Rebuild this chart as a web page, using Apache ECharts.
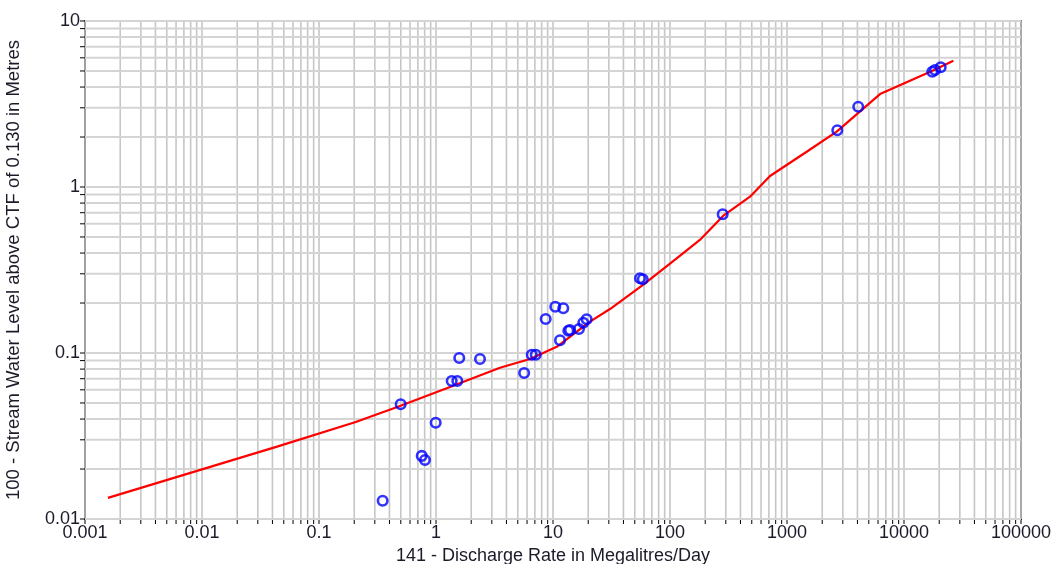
<!DOCTYPE html>
<html>
<head>
<meta charset="utf-8">
<title>Rating curve</title>
<script src="https://cdn.jsdelivr.net/npm/echarts@6/dist/echarts.min.js"></script>
<style>
  html, body { margin: 0; padding: 0; background: #fff; }
  #chart { width: 1053px; height: 564px; }
</style>
</head>
<body>
<div id="chart"></div>
<script>
// Rating curve: discharge (Ml/d) against stream water level (m)
const ratingFlow  = [0.00157, 0.0438, 0.203, 0.473, 1.235, 3.52, 6.36, 10.76, 20.7, 30.7, 58.8, 114, 180, 284, 483, 716, 1473, 2660, 5470, 6240, 17340, 26400];
const ratingLevel = [0.0134, 0.0273, 0.0383, 0.0475, 0.0613, 0.0815, 0.0920, 0.109, 0.1544, 0.184, 0.257, 0.372, 0.480, 0.669, 0.874, 1.165, 1.63, 2.155, 3.345, 3.63, 5.0, 5.77];

// Gaugings
const obsFlow  = [0.350, 0.499, 0.755, 0.805, 0.994, 1.362, 1.521, 1.581, 2.377, 5.67, 6.58, 7.12, 8.66, 10.46, 12.24, 11.48, 13.52, 13.97, 16.67, 18.15, 19.4, 55.4, 58.5, 282, 2692, 4065, 17460, 18400, 20590];
const obsLevel = [0.01289, 0.0491, 0.0240, 0.02267, 0.0380, 0.0678, 0.0678, 0.0933, 0.0920, 0.0758, 0.0977, 0.0977, 0.1603, 0.190, 0.186, 0.1193, 0.1362, 0.1376, 0.1395, 0.1522, 0.1596, 0.2818, 0.278, 0.685, 2.196, 3.047, 4.95, 5.07, 5.26];

// Axis tick labels (one per decade)
const xTickLabels = ['0.001', '0.01', '0.1', '1', '10', '100', '1000', '10000', '100000'];
const yTickLabels = ['0.01', '0.1', '1', '10'];

const xMin = Number(xTickLabels[0]), xMax = Number(xTickLabels[xTickLabels.length - 1]);
const yMin = Number(yTickLabels[0]), yMax = Number(yTickLabels[yTickLabels.length - 1]);

// Every 1..9 step of each decade gets a grid line
function logSteps(lo, hi) {
  const out = [];
  const e0 = Math.round(Math.log10(lo)), e1 = Math.round(Math.log10(hi));
  for (let e = e0; e < e1; e++) {
    for (let m = 1; m <= 9; m++) out.push(Number((m * Math.pow(10, e)).toPrecision(3)));
  }
  out.push(hi);
  return out;
}
const xGridValues = logSteps(xMin, xMax);
const yGridValues = logSteps(yMin, yMax);

const FONT = '"Liberation Sans", Arial, sans-serif';
const TEXT = '#1b1b2a';

function decadeLabel(labels, lo) {
  return function (v) {
    const i = Math.round(Math.log10(v)) - Math.round(Math.log10(lo));
    return labels[i] !== undefined ? labels[i] : '';
  };
}

const chart = echarts.init(document.getElementById('chart'), null, { renderer: 'canvas' });

chart.setOption({
  animation: false,
  backgroundColor: '#fff',
  grid: {
    left: 85, right: 32, top: 21, bottom: 45,
    outerBoundsMode: 'none', containLabel: false,
    show: true, borderColor: '#000', borderWidth: 1.5, backgroundColor: 'transparent'
  },
  xAxis: {
    type: 'log', logBase: 10, min: xMin, max: xMax, interval: 1, splitNumber: 8,
    name: '141 - Discharge Rate in Megalitres/Day',
    nameLocation: 'middle', nameGap: 22,
    nameTextStyle: { fontFamily: FONT, fontSize: 18, color: TEXT },
    axisLine: { show: true, lineStyle: { color: '#000', width: 1.5 } },
    axisTick: { show: false },
    splitLine: { show: false },
    minorTick: { show: false },
    axisLabel: { margin: 5, fontFamily: FONT, fontSize: 18, color: TEXT, formatter: decadeLabel(xTickLabels, xMin) }
  },
  yAxis: {
    type: 'log', logBase: 10, min: yMin, max: yMax, interval: 1, splitNumber: 3,
    name: '100 - Stream Water Level above CTF of 0.130 in Metres',
    nameLocation: 'middle', nameGap: 62, nameRotate: 90,
    nameTextStyle: { fontFamily: FONT, fontSize: 18.5, color: TEXT },
    axisLine: { show: true, lineStyle: { color: '#000', width: 1.5 } },
    axisTick: { show: false },
    splitLine: { show: false },
    minorTick: { show: false },
    axisLabel: { margin: 5, fontFamily: FONT, fontSize: 18, color: TEXT, formatter: decadeLabel(yTickLabels, yMin) }
  },
  series: [
    {
      // vertical grid lines with their outside tick marks
      type: 'custom', silent: true, z: 1, clip: false,
      data: xGridValues.map(v => [v, yMin]),
      renderItem: function (params, api) {
        const v = xGridValues[params.dataIndex];
        const b = api.coord([v, yMin]);
        const t = api.coord([v, yMax]);
        return {
          type: 'group', children: [
            { type: 'line', shape: { x1: b[0], y1: b[1], x2: t[0], y2: t[1] }, style: { stroke: '#c6c6c6', lineWidth: 1.6 } },
            { type: 'line', shape: { x1: b[0], y1: b[1], x2: b[0], y2: b[1] + 5 }, style: { stroke: '#000', lineWidth: 1 } }
          ]
        };
      }
    },
    {
      // horizontal grid lines with their outside tick marks
      type: 'custom', silent: true, z: 1, clip: false,
      data: yGridValues.map(v => [xMin, v]),
      renderItem: function (params, api) {
        const v = yGridValues[params.dataIndex];
        const l = api.coord([xMin, v]);
        const r = api.coord([xMax, v]);
        return {
          type: 'group', children: [
            { type: 'line', shape: { x1: l[0], y1: l[1], x2: r[0], y2: r[1] }, style: { stroke: '#d4d4d4', lineWidth: 2 } },
            { type: 'line', shape: { x1: l[0] - 5, y1: l[1], x2: l[0], y2: l[1] }, style: { stroke: '#000', lineWidth: 1 } }
          ]
        };
      }
    },
    {
      name: 'Rating', type: 'line', z: 3,
      data: ratingFlow.map((f, i) => [f, ratingLevel[i]]),
      showSymbol: false, smooth: false,
      lineStyle: { color: '#ff0000', width: 2.2 }
    },
    {
      name: 'Gaugings', type: 'scatter', z: 4,
      data: obsFlow.map((f, i) => [f, obsLevel[i]]),
      symbol: 'circle', symbolSize: 9.5,
      itemStyle: { color: 'rgba(0,0,0,0)', borderColor: '#0000ff', borderWidth: 2.6 }
    }
  ]
});
</script>
</body>
</html>
